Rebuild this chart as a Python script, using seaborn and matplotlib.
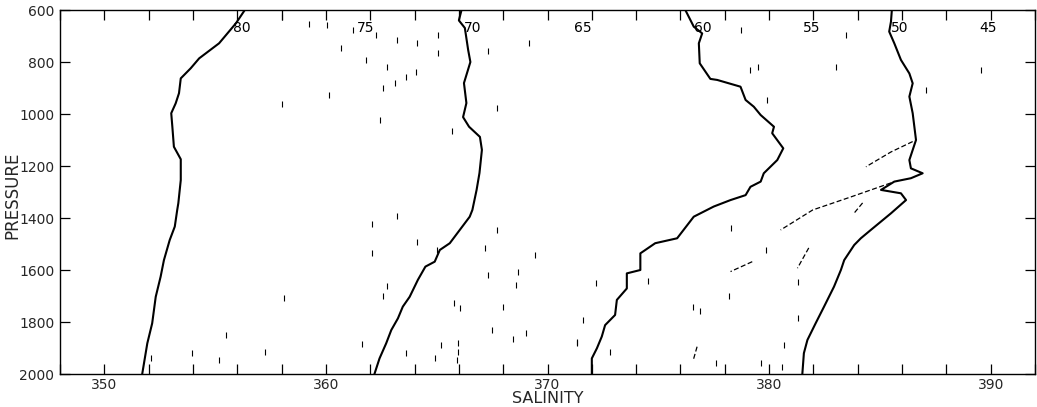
import numpy as np
import pandas as pd
import matplotlib
matplotlib.use("Agg")
import matplotlib.pyplot as plt
import seaborn as sns

# ---------------- data ----------------
p1_sal = [356.34, 355.94, 355.18, 354.28, 353.90, 353.45, 353.37, 353.22, 353.02, 353.07,
          353.14, 353.45, 353.45, 353.34, 353.29, 353.18, 352.95, 352.69, 352.54, 352.32,
          352.16, 351.94, 351.71]
p1_pres = [600, 651, 728, 786, 824, 863, 920, 959, 997, 1049,
           1126, 1174, 1254, 1343, 1369, 1433, 1485, 1562, 1626, 1703,
           1805, 1882, 2000]

p2_sal = [366.12, 366.00, 366.27, 366.42, 366.52, 366.23, 366.34, 366.19, 366.46, 366.95,
          367.04, 366.93, 366.80, 366.61, 366.49, 366.04, 365.59, 365.14, 364.91, 364.49,
          364.15, 363.78, 363.47, 363.25, 362.95, 362.72, 362.42, 362.19]
p2_pres = [600, 640, 669, 754, 800, 881, 958, 1012, 1049, 1088,
           1138, 1227, 1292, 1369, 1395, 1446, 1497, 1523, 1568, 1587,
           1638, 1703, 1741, 1786, 1831, 1882, 1940, 2000]

p3_sal = [376.22, 376.60, 376.98, 376.83, 376.87, 377.35, 377.66, 378.71, 378.94, 379.31,
          379.62, 380.22, 380.14, 380.64, 380.37, 379.76, 379.62, 379.16, 378.94, 378.26,
          377.50, 376.60, 375.85, 374.86, 374.19, 374.19, 373.58, 373.58, 373.13, 373.05,
          372.60, 372.45, 372.23, 372.00, 372.00]
p3_pres = [600, 664, 690, 728, 805, 865, 869, 895, 946, 972,
           1004, 1049, 1074, 1132, 1177, 1228, 1260, 1280, 1312, 1331,
           1356, 1395, 1478, 1497, 1536, 1600, 1613, 1671, 1715, 1773,
           1812, 1856, 1901, 1940, 2000]

p4_sal = [385.54, 385.50, 385.42, 385.65, 385.95, 386.33, 386.48, 386.33, 386.48, 386.63,
          386.33, 386.40, 386.93, 386.40, 385.65, 385.05, 385.95, 386.18, 386.10, 385.50,
          384.59, 384.14, 383.84, 383.39, 383.24, 382.93, 382.48, 382.10, 381.73, 381.57,
          381.50]
p4_pres = [600, 645, 683, 728, 792, 844, 882, 933, 997, 1100,
           1177, 1209, 1228, 1247, 1260, 1292, 1305, 1331, 1337, 1382,
           1446, 1478, 1504, 1562, 1600, 1664, 1741, 1805, 1869, 1920,
           2000]

# faint secondary trace fragments (NaN separates fragments)
trace_sal = [386.48, 385.50, 384.37, np.nan,
             385.50, 383.69, 381.97, 380.52, np.nan,
             384.22, 383.84, np.nan,
             381.79, 381.28, np.nan,
             379.24, 378.26, np.nan,
             376.75, 376.58]
trace_pres = [1106, 1146, 1203, np.nan,
              1265, 1319, 1369, 1446, np.nan,
              1342, 1381, np.nan,
              1515, 1593, np.nan,
              1568, 1606, np.nan,
              1895, 1946]

# small scattered specks
speck_sal = [358.03, 358.03, 359.25, 360.07, 361.20, 362.24, 363.19, 364.10, 365.05, 365.05,
             360.70, 361.83, 362.74, 364.05, 363.60, 363.10, 362.56, 360.16, 362.42, 365.68,
             367.71, 367.31, 369.16, 358.12, 355.50, 357.26, 353.96, 355.18, 352.10, 363.19,
             362.10, 362.10, 364.10, 365.00, 367.17, 367.71, 369.43, 367.31, 368.67, 368.58,
             362.74, 362.56, 365.77, 366.04, 367.99, 367.49, 369.03, 368.44, 371.34, 365.18,
             365.95, 365.95, 365.91, 364.91, 363.60, 361.61,
             378.71, 379.89, 379.16, 379.48, 383.01, 389.57, 372.19, 371.61, 371.34, 372.83,
             374.55, 376.58, 376.90, 378.17, 379.84, 380.66, 381.29, 381.29, 379.62, 380.57,
             377.62, 378.26, 383.46, 387.08]
speck_pres = [627, 962, 654, 658, 677, 696, 715, 727, 696, 765,
              746, 792, 819, 838, 858, 881, 900, 927, 1023, 1065,
              977, 758, 727, 1708, 1850, 1915, 1919, 1946, 1938, 1392,
              1423, 1535, 1492, 1523, 1515, 1446, 1542, 1619, 1608, 1658,
              1662, 1700, 1727, 1746, 1742, 1831, 1842, 1865, 1877, 1888,
              1881, 1915, 1946, 1938, 1919, 1885,
              677, 946, 831, 819, 819, 831, 1650, 1792, 1881, 1915,
              1642, 1742, 1758, 1700, 1523, 1888, 1646, 1785, 1958, 1973,
              1958, 1438, 696, 908]

# top scale labels and their positions on the salinity axis
top_labels = ["80", "75", "70", "65", "60", "55", "50", "45"]
top_label_sal = [356.2, 361.8, 366.6, 371.6, 377.0, 381.9, 385.9, 389.9]

x_major = [350, 360, 370, 380, 390]
x_major_labels = ["350", "360", "370", "380", "390"]
x_minor = list(range(348, 393, 2))
y_ticks = [600, 800, 1000, 1200, 1400, 1600, 1800, 2000]
y_tick_labels = ["600", "800", "1000", "1200", "1400", "1600", "1800", "2000"]

# ---------------- plot ----------------
sns.set_theme(style="white")
plt.rcParams["font.family"] = ["DejaVu Sans"]

fig = plt.figure(figsize=(10.37, 4.07), dpi=100)
ax = fig.add_axes([60 / 1037, 1 - 374 / 407, 975 / 1037, 364 / 407])

profiles = [(p1_sal, p1_pres), (p2_sal, p2_pres), (p3_sal, p3_pres), (p4_sal, p4_pres)]
for i, (s, p) in enumerate(profiles):
    df = pd.DataFrame({"salinity": s, "pressure": p})
    sns.lineplot(data=df, x="salinity", y="pressure", sort=False, estimator=None,
                 color="black", lw=1.5, ax=ax)

ax.plot(trace_sal, trace_pres, color="black", lw=0.9, ls=(0, (4, 2)))
sns.scatterplot(x=speck_sal, y=speck_pres, marker="|", s=18, color="black",
                linewidth=0.8, ax=ax)

for lab, s in zip(top_labels, top_label_sal):
    ax.text(s, 668, lab, ha="center", va="center", fontsize=10, color="black")

ax.set_xlim(348, 392)
ax.set_ylim(2000, 600)
ax.set_xticks(x_major)
ax.set_xticklabels(x_major_labels, fontsize=10)
ax.set_xticks(x_minor, minor=True)
ax.set_yticks(y_ticks)
ax.set_yticklabels(y_tick_labels, fontsize=10)

ax.tick_params(axis="both", which="both", direction="in", length=7.5, width=0.9,
               color="black", top=True, right=True, bottom=True, left=True)
ax.tick_params(axis="x", which="both", pad=3)
ax.tick_params(axis="y", which="both", pad=4)

for sp in ax.spines.values():
    sp.set_visible(True)
    sp.set_color("black")
    sp.set_linewidth(1.0)

ax.set_xlabel("SALINITY", fontsize=11.5, labelpad=-1)
ylab = ax.set_ylabel("PRESSURE", fontsize=12, va="center")
ax.yaxis.set_label_coords(-0.049, 0.49)
ax.grid(False)

fig.savefig("out.png", dpi=100, facecolor="white")
